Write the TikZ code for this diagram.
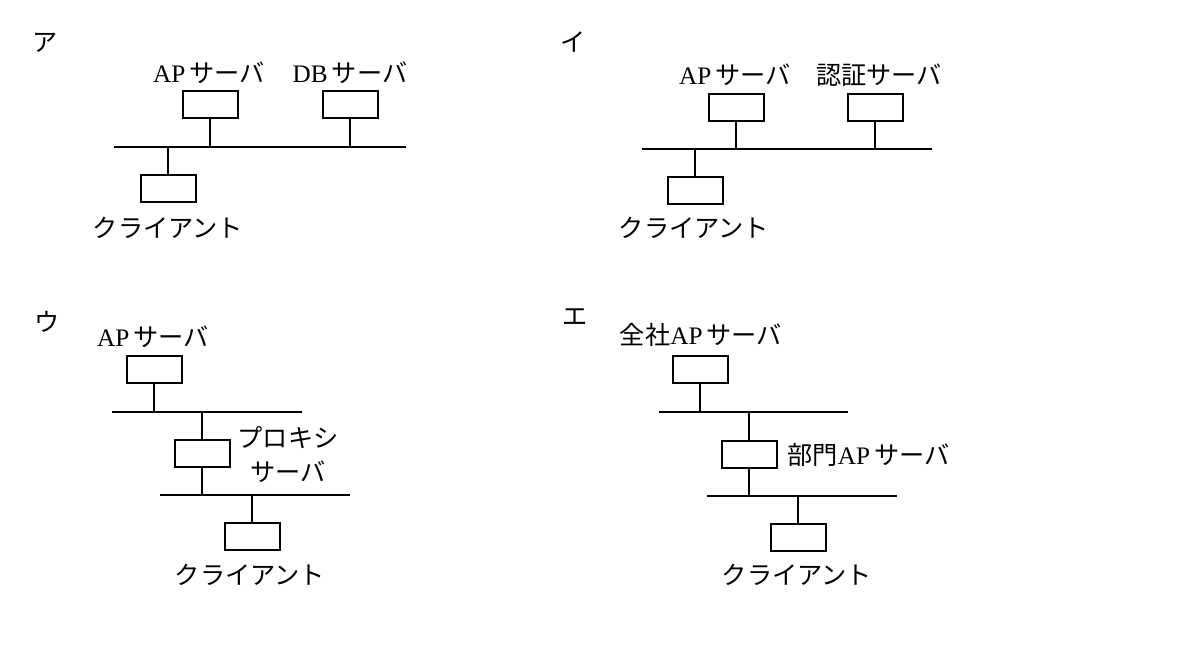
\documentclass[tikz,border=0pt]{standalone}
\usepackage{fontspec}
\setmainfont{Liberation Serif}
\newfontfamily\jp{Noto Sans CJK JP}
\usetikzlibrary{positioning}
\newcommand{\kata}[1]{{\jp #1}}

\begin{document}
\begin{tikzpicture}[x=0.5pt,y=-0.5pt,
    box/.style={draw,line width=1pt,minimum width=27.5pt,minimum height=13.5pt,inner sep=0pt},
    txt/.style={font=\fontsize{12.6}{17}\selectfont,inner sep=0pt,align=center},
    bus/.style={line width=1.1pt}
  ]
    \useasboundingbox (0,0) rectangle (1200,650);

    % ア
    \node[txt] (markA) at (45,43) {\kata{ア}};
    \node[box] (apA) at (210,104) {};
    \node[txt] (apAt) at (209,73) {AP\,\kata{サーバ}};
    \node[box] (dbA) at (350,104) {};
    \node[txt] (dbAt) at (350,73) {DB\,\kata{サーバ}};
    \coordinate (busAl) at (114,147);
    \coordinate (busAr) at (406,147);
    \node[box] (clA) at (168,188) {};
    \node[txt] (clAt) at (168,228) {\kata{クライアント}};
    \draw[bus] (busAl) -- (busAr);
    \draw[bus] (apA) -- (apA |- busAl);
    \draw[bus] (dbA) -- (dbA |- busAl);
    \draw[bus] (clA) -- (clA |- busAl);

    % イ
    \node[txt] (markB) at (573,42) {\kata{イ}};
    \node[box] (apB) at (736,107) {};
    \node[txt] (apBt) at (735,75) {AP\,\kata{サーバ}};
    \node[box] (auB) at (875,107) {};
    \node[txt] (auBt) at (879,75) {\kata{認証サーバ}};
    \coordinate (busBl) at (642,149);
    \coordinate (busBr) at (932,149);
    \node[box] (clB) at (695,190) {};
    \node[txt] (clBt) at (694,228) {\kata{クライアント}};
    \draw[bus] (busBl) -- (busBr);
    \draw[bus] (apB) -- (apB |- busBl);
    \draw[bus] (auB) -- (auB |- busBl);
    \draw[bus] (clB) -- (clB |- busBl);

    % ウ
    \node[txt] (markC) at (47,322) {\kata{ウ}};
    \node[box] (apC) at (154,369) {};
    \node[txt] (apCt) at (153,337) {AP\,\kata{サーバ}};
    \coordinate (busCl) at (112,412);
    \coordinate (busCr) at (302,412);
    \node[box] (prC) at (202,453) {};
    \node[txt] (prCt) at (288,455) {\kata{プロキシ}\\\kata{サーバ}};
    \coordinate (busDl) at (160,495);
    \coordinate (busDr) at (350,495);
    \node[box] (clC) at (252,536) {};
    \node[txt] (clCt) at (250,575) {\kata{クライアント}};
    \draw[bus] (busCl) -- (busCr);
    \draw[bus] (busDl) -- (busDr);
    \draw[bus] (apC) -- (apC |- busCl);
    \draw[bus] (prC) -- (prC |- busCl);
    \draw[bus] (prC) -- (prC |- busDl);
    \draw[bus] (clC) -- (clC |- busDl);

    % エ
    \node[txt] (markD) at (575,317) {\kata{エ}};
    \node[box] (apD) at (700,369) {};
    \node[txt] (apDt) at (701,335) {\kata{全社}AP\,\kata{サーバ}};
    \coordinate (busEl) at (659,412);
    \coordinate (busEr) at (848,412);
    \node[box] (dpD) at (749,454) {};
    \node[txt,anchor=west] (dpDt) at (787,455) {\kata{部門}AP\,\kata{サーバ}};
    \coordinate (busFl) at (707,496);
    \coordinate (busFr) at (897,496);
    \node[box] (clD) at (798,537) {};
    \node[txt] (clDt) at (797,575) {\kata{クライアント}};
    \draw[bus] (busEl) -- (busEr);
    \draw[bus] (busFl) -- (busFr);
    \draw[bus] (apD) -- (apD |- busEl);
    \draw[bus] (dpD) -- (dpD |- busEl);
    \draw[bus] (dpD) -- (dpD |- busFl);
    \draw[bus] (clD) -- (clD |- busFl);
  \end{tikzpicture}
\end{document}
